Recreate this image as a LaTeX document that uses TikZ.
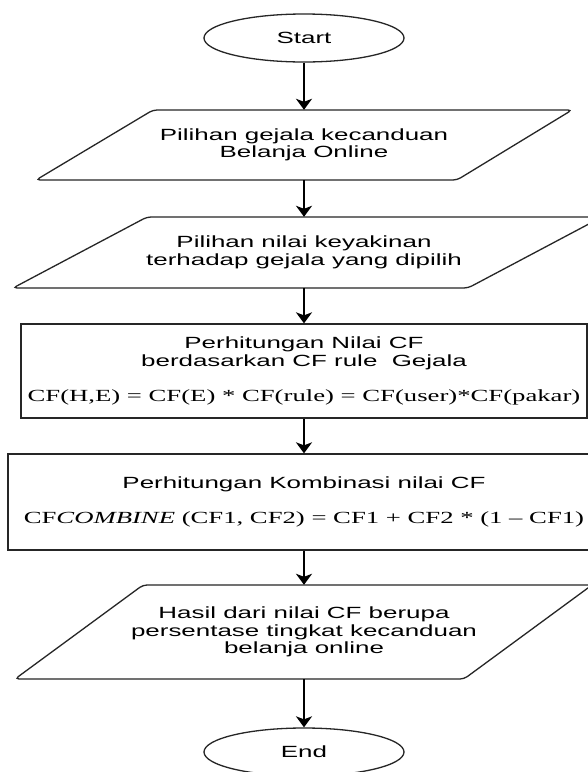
\documentclass[tikz,border=0pt]{standalone}
\usepackage{fontspec}
\usetikzlibrary{shapes.geometric,arrows.meta}
% wide-set faces used throughout the flowchart
\newfontfamily\flowsans[FakeStretch=1.6]{Liberation Sans}
\newfontfamily\flowserif[FakeStretch=1.57]{Liberation Serif}
\newcommand\sanstext{\flowsans\fontsize{16.2}{17.6}\selectfont}
\newcommand\formulatext{\flowserif\fontsize{17}{19}\selectfont}

\begin{document}
\begin{tikzpicture}[x=1pt,y=-1pt,
  outline/.style={draw=black!85, line width=1.3pt},
  flowarrow/.style={draw=black, line width=1.8pt,
    -{Stealth[length=11pt,width=16pt,inset=3pt]}},
  terminal/.style={outline, ellipse, minimum width=200pt, minimum height=48pt,
    inner sep=0pt, font=\sanstext},
  iolabel/.style={inner sep=0pt, align=center, font=\sanstext},
  iobox/.style={outline, rounded corners=4pt},
  process/.style={outline, rectangle, inner sep=0pt, align=center, font=\sanstext},
]
\useasboundingbox (0,0) rectangle (588,772);
\clip (0,0) rectangle (588,772);
\fill[white] (0,0) rectangle (588,772);

% terminals
\node[terminal] (start) at (304,38) {Start};
\node[terminal] (end) at (304,752) {End};

% input / output parallelograms
\draw[iobox] (153,110) -- (572,110) -- (457,180) -- (36,180) -- cycle;
\node[iolabel, minimum height=70pt] (in1) at (304,145)
  {Pilihan gejala kecanduan\\Belanja Online};

\draw[iobox] (147,217) -- (602,217) -- (468,288) -- (13,288) -- cycle;
\node[iolabel, minimum height=71pt] (in2) at (304,252.5)
  {Pilihan nilai keyakinan\\terhadap gejala yang dipilih};

\draw[iobox] (143,585) -- (592,585) -- (464,679) -- (15,679) -- cycle;
\node[iolabel, minimum height=94pt] (out) at (304,632)
  {Hasil dari nilai CF berupa\\persentase tingkat kecanduan\\belanja online};

% processing steps
\node[process, minimum width=566pt, minimum height=94pt] (calc) at (304,371)
  {Perhitungan Nilai CF\\berdasarkan CF rule\ \ Gejala\\[18pt]%
   {\formulatext CF(H,E) = CF(E) * CF(rule) = CF(user)*CF(pakar)}};

\node[process, minimum width=592pt, minimum height=96pt] (comb) at (304,502)
  {Perhitungan Kombinasi nilai CF\\[17pt]%
   {\formulatext CF\textit{COMBINE} (CF1, CF2) = CF1 + CF2 * (1 – CF1)}};

% flow
\draw[flowarrow] (start) -- (in1);
\draw[flowarrow] (in1) -- (in2);
\draw[flowarrow] (in2) -- (calc);
\draw[flowarrow] (calc) -- (comb);
\draw[flowarrow] (comb) -- (out);
\draw[flowarrow] (out) -- (end);
\end{tikzpicture}
\end{document}
